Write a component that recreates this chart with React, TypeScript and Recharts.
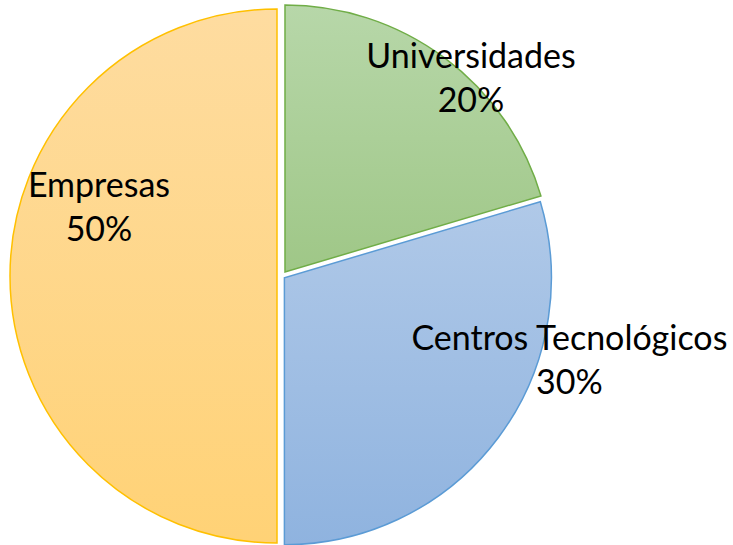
import { PieChart, Pie } from "recharts";

// Data
const categories = ["Universidades", "Centros Tecnológicos", "Empresas"];
const shares = [20.4, 29.6, 50];

// Styles
const gradTop = ["#b7d7a9", "#b0c9e8", "#fedca0"];
const gradBottom = ["#9fc787", "#8fb3df", "#ffd276"];
const borders = ["#70ad47", "#5b9bd5", "#ffc000"];
const explode = [5, 3, 5];
// label offsets (first line baseline) from each slice's center
const labelOffsets = [
  { dx: 186, dy: -204 },
  { dx: 285, dy: 72 },
  { dx: -178, dy: -79 },
];

const W = 733;
const H = 545;
const CX = 282;
const CY = 276;
const R = 267;

const total = shares.reduce((a, b) => a + b, 0);

export default function App() {
  let acc = 0;
  const slices = shares.map((v, i) => {
    const start = 90 - (acc / total) * 360;
    acc += v;
    const end = 90 - (acc / total) * 360;
    const mid = ((start + end) / 2) * (Math.PI / 180);
    return {
      i,
      start,
      end,
      cx: CX + explode[i] * Math.cos(mid),
      cy: CY - explode[i] * Math.sin(mid),
      data: [{ name: categories[i], value: v }],
    };
  });

  const renderLabel = (i: number) => (props: any) => {
    const x = props.cx + labelOffsets[i].dx;
    const y = props.cy + labelOffsets[i].dy;
    const pct = Math.round((shares[i] / total) * 100);
    return (
      <text
        x={x}
        y={y}
        textAnchor="middle"
        fill="#000"
        fontFamily="Lato, 'Open Sans', sans-serif"
        fontSize={34}
      >
        <tspan x={x} dy={0}>{categories[i]}</tspan>
        <tspan x={x} dy={44}>{`${pct}%`}</tspan>
      </text>
    );
  };

  return (
    <div style={{ position: "absolute", left: 0, top: 0, background: "#fff" }}>
      <PieChart width={W} height={H} margin={{ top: 0, right: 0, bottom: 0, left: 0 }}>
        <defs>
          {shares.map((_, i) => (
            <linearGradient key={i} id={`grad${i}`} x1="0" y1="0" x2="0" y2="1">
              <stop offset="0%" stopColor={gradTop[i]} />
              <stop offset="100%" stopColor={gradBottom[i]} />
            </linearGradient>
          ))}
        </defs>
        {slices.map((s) => (
          <Pie
            key={s.i}
            data={s.data}
            dataKey="value"
            nameKey="name"
            cx={s.cx}
            cy={s.cy}
            outerRadius={R}
            innerRadius={0}
            startAngle={s.start}
            endAngle={s.end}
            fill={`url(#grad${s.i})`}
            stroke={borders[s.i]}
            strokeWidth={1.5}
            label={renderLabel(s.i)}
            labelLine={false}
            isAnimationActive={false}
          />
        ))}
      </PieChart>
    </div>
  );
}
